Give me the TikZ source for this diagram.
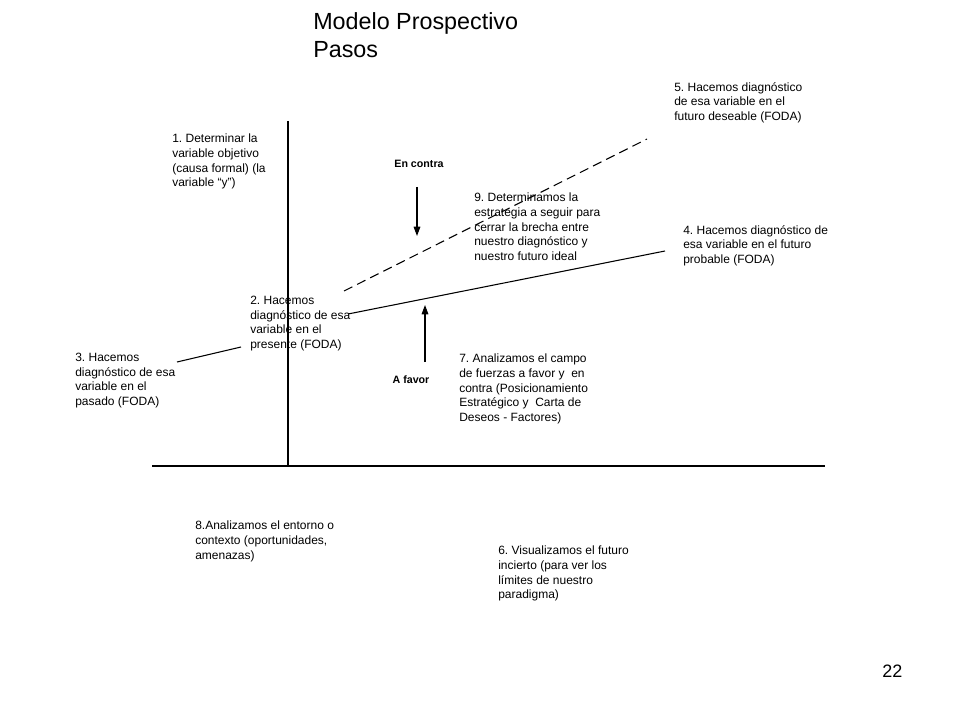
\documentclass[tikz,border=0pt]{standalone}
\usepackage{fontspec}
\setmainfont{Liberation Sans}
\usetikzlibrary{arrows.meta}
\frenchspacing
\tikzset{
  lbl/.style={anchor=north west, inner sep=0pt, align=left, font=\fontsize{9}{11}\selectfont},
  force/.style={font=\fontsize{8}{10}\selectfont\bfseries, inner sep=0pt},
  thinline/.style={line width=0.8pt},
  axisline/.style={line width=1.3pt},
  arr/.style={line width=0.8pt, -{Triangle[length=7pt,width=5pt]}},
}
\begin{document}
\frenchspacing
\begin{tikzpicture}[x=0.75pt,y=-0.75pt]
\useasboundingbox (0,0) rectangle (960,720);
% title
\node[anchor=north west, inner sep=0pt, align=left, font=\fontsize{17.5}{21}\selectfont] (title) at (313,12) {Modelo Prospectivo\\Pasos};
% axes
\coordinate (vtop) at (288,121);
\coordinate (vbot) at (288,466);
\coordinate (hleft) at (152,466);
\coordinate (hright) at (825,466);
\draw[thinline] (vtop) -- (vbot);
\draw[axisline] (hleft) -- (hright);
% graph lines
\coordinate (p3) at (177,362);
\coordinate (p2a) at (241,347);
\coordinate (p2b) at (348,314);
\coordinate (p4) at (665,251);
\coordinate (d0) at (344,291);
\coordinate (p5) at (647,139);
\draw[thinline] (p3) -- (p2a);
\draw[thinline] (p2b) -- (p4);
\draw[thinline, dash pattern=on 7pt off 4pt] (d0) -- (p5);
% forces
\node[force] (contra) at (419,164) {En contra};
\coordinate (ca) at (417,187);
\coordinate (cb) at (417,236);
\draw[arr] (ca) -- (cb);
\node[force] (favor) at (411,380) {A favor};
\coordinate (fa) at (425,362);
\coordinate (fb) at (425,305);
\draw[arr] (fa) -- (fb);
% labels
\node[lbl] (t1) at (172,134) {1. Determinar la\\variable objetivo\\(causa formal) (la\\variable “y”)};
\node[lbl] (t2) at (250,296) {2. Hacemos\\diagnóstico de esa\\variable en el\\presente (FODA)};
\node[lbl] (t3) at (75,353) {3. Hacemos\\diagnóstico de esa\\variable en el\\pasado (FODA)};
\node[lbl] (t5) at (674,82) {5. Hacemos diagnóstico\\de esa variable en el\\futuro deseable (FODA)};
\node[lbl] (t9) at (474,193) {9. Determinamos la\\estrategia a seguir para\\cerrar la brecha entre\\nuestro diagnóstico y\\nuestro futuro ideal};
\node[lbl] (t4) at (683,225) {4. Hacemos diagnóstico de\\esa variable en el futuro\\probable (FODA)};
\node[lbl] (t7) at (459,354) {7. Analizamos el campo\\de fuerzas a favor y\ \ en\\contra (Posicionamiento\\Estratégico y\ \ Carta de\\Deseos - Factores)};
\node[lbl] (t8) at (195,521) {8.Analizamos el entorno o\\contexto (oportunidades,\\amenazas)};
\node[lbl] (t6) at (498,546) {6. Visualizamos el futuro\\incierto (para ver los\\límites de nuestro\\paradigma)};
% page number
\node[anchor=north west, inner sep=0pt, font=\fontsize{13.5}{16}\selectfont] (page) at (882,665) {22};
\end{tikzpicture}
\end{document}
